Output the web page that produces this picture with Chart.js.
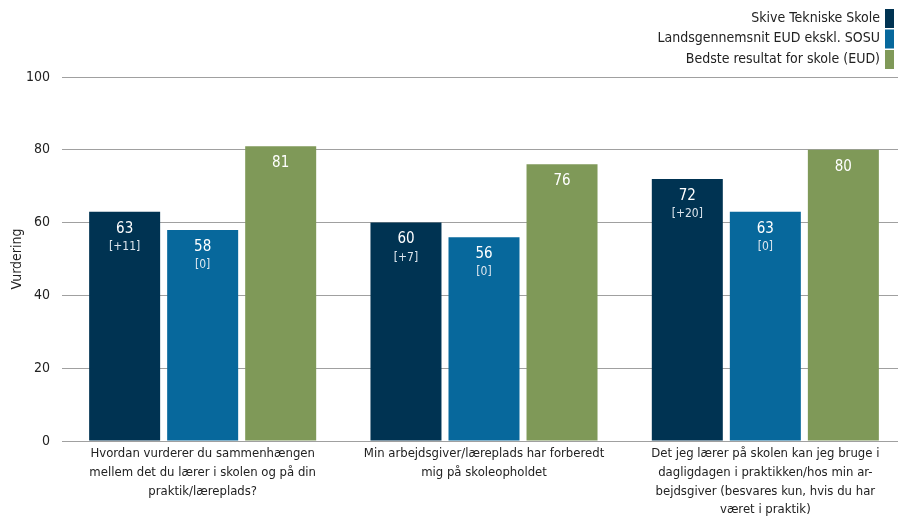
<!DOCTYPE html>
<html>
<head>
<meta charset="utf-8">
<script src="https://cdn.jsdelivr.net/npm/chart.js@4"></script>
<style>
  body { margin: 0; background: #fff; overflow: hidden; }
</style>
</head>
<body>
<canvas id="myChart" width="906" height="521"></canvas>
<script>
const categories = [
    ['Hvordan vurderer du sammenhængen', 'mellem det du lærer i skolen og på din', 'praktik/læreplads?'],
    ['Min arbejdsgiver/læreplads har forberedt', 'mig på skoleopholdet'],
    ['Det jeg lærer på skolen kan jeg bruge i', 'dagligdagen i praktikken/hos min ar-', 'bejdsgiver (besvares kun, hvis du har', 'været i praktik)']
];
const seriesNames = ['Skive Tekniske Skole', 'Landsgennemsnit EUD ekskl. SOSU', 'Bedste resultat for skole (EUD)'];
const skiveValues = [63, 60, 72];
const landsValues = [58, 56, 63];
const bedsteValues = [81, 76, 80];
const skiveDiff = ['[+11]', '[+7]', '[+20]'];
const landsDiff = ['[0]', '[0]', '[0]'];
const yTicks = [0, 20, 40, 60, 80, 100];

const FONT = "'DejaVu Sans Condensed', 'DejaVu Sans', sans-serif";

// value labels inside the bars
const barLabels = {
    id: 'barLabels',
    afterDatasetsDraw(chart) {
        const ctx = chart.ctx;
        ctx.save();
        ctx.textAlign = 'center';
        ctx.textBaseline = 'middle';
        chart.data.datasets.forEach((ds, i) => {
            chart.getDatasetMeta(i).data.forEach((bar, j) => {
                ctx.fillStyle = '#ffffff';
                ctx.font = '15px ' + FONT;
                ctx.fillText(ds.data[j], bar.x, bar.y + 17);
                if (ds.diff) {
                    ctx.fillStyle = '#dde6ee';
                    ctx.font = '12px ' + FONT;
                    ctx.fillText(ds.diff[j], bar.x, bar.y + 35);
                }
            });
        });
        ctx.restore();
    }
};

// legend at top right, swatch after the text
const rightLegend = {
    id: 'rightLegend',
    afterDraw(chart) {
        const ctx = chart.ctx;
        ctx.save();
        ctx.font = '14px ' + FONT;
        ctx.textAlign = 'right';
        ctx.textBaseline = 'middle';
        chart.data.datasets.forEach((ds, i) => {
            const y = 18 + i * 20.5;
            ctx.fillStyle = '#222';
            ctx.fillText(ds.label, 880, y);
            ctx.fillStyle = ds.backgroundColor;
            ctx.fillRect(885, y - 9, 9, 19);
        });
        ctx.restore();
    }
};

const data = {
    labels: categories,
    datasets: [
        { label: seriesNames[0], data: skiveValues, diff: skiveDiff, backgroundColor: '#003352' },
        { label: seriesNames[1], data: landsValues, diff: landsDiff, backgroundColor: '#07689c' },
        { label: seriesNames[2], data: bedsteValues, backgroundColor: '#7f9958' }
    ]
};

const config = {
    type: 'bar',
    data: data,
    options: {
        responsive: false,
        animation: false,
        categoryPercentage: 0.832,
        barPercentage: 0.91,
        layout: { padding: { top: 77, right: 0, left: 0, bottom: 0 } },
        plugins: {
            legend: { display: false },
            tooltip: { enabled: false }
        },
        scales: {
            x: {
                grid: { display: false, drawTicks: false },
                border: { display: true, color: '#a0a0a0' },
                ticks: {
                    color: '#222',
                    font: { family: FONT, size: 13, lineHeight: 1.45 },
                    maxRotation: 0,
                    autoSkip: false,
                    padding: 3
                },
                afterFit: s => { s.height = 80; }
            },
            y: {
                min: 0,
                max: 100,
                afterBuildTicks: s => { s.ticks = yTicks.map(v => ({ value: v })); },
                grid: { color: '#a0a0a0', drawTicks: false },
                border: { display: false },
                ticks: {
                    color: '#222',
                    font: { family: FONT, size: 14 },
                    padding: 12
                },
                title: {
                    display: true,
                    text: 'Vurdering',
                    color: '#222',
                    font: { family: FONT, size: 14 },
                    padding: { top: 9, bottom: 0 }
                },
                afterFit: s => { s.width = 62; }
            }
        }
    },
    plugins: [barLabels, rightLegend]
};

const myChart = new Chart(document.getElementById('myChart'), config);
</script>
</body>
</html>
